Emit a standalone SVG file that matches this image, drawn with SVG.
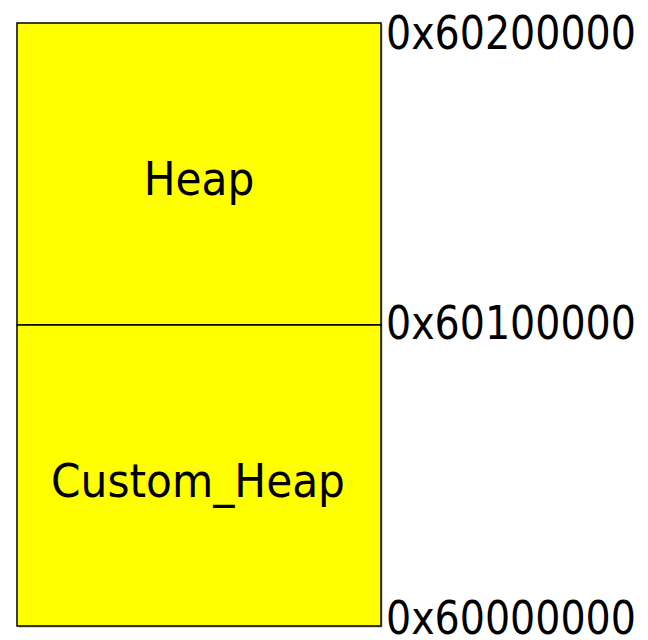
<svg xmlns="http://www.w3.org/2000/svg" width="648" height="640" viewBox="0 0 648 640">
<style>
.box{fill:#ffff00;stroke:#000;stroke-width:1.5}
.sh{fill:#b0b0b0}
.t{font-family:"DejaVu Sans Condensed","DejaVu Sans",sans-serif;font-size:47px;fill:#000}
.a{font-family:"DejaVu Sans Condensed","DejaVu Sans",sans-serif;font-size:44px;fill:#000}
</style>
<rect width="648" height="640" fill="#fff"/>
<g id="heap">
<rect class="sh" x="18.5" y="24.5" width="364" height="302"/>
<rect class="box" x="17" y="23" width="364" height="302"/>
<text class="t" x="199" y="195" text-anchor="middle">Heap</text>
</g>
<g id="custom_heap">
<rect class="sh" x="18.5" y="326.5" width="364" height="301"/>
<rect class="box" x="17" y="325" width="364" height="301"/>
<text class="t" x="198" y="497" text-anchor="middle" textLength="294" lengthAdjust="spacingAndGlyphs">Custom_Heap</text>
</g>
<g id="labels">
<text class="a" transform="translate(386,49) scale(1,1.07)">0x60200000</text>
<text class="a" transform="translate(386,339) scale(1,1.07)">0x60100000</text>
<text class="a" transform="translate(386,634) scale(1,1.07)">0x60000000</text>
</g>
<g id="connectors"/>
</svg>
